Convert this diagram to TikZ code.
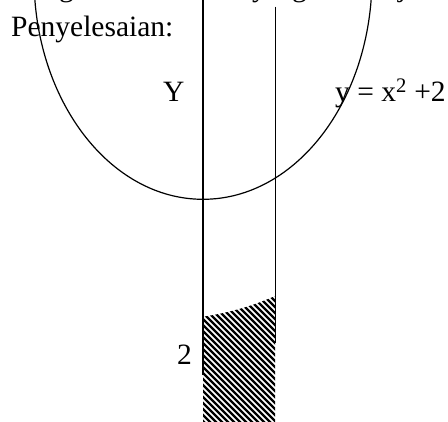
\documentclass[tikz,border=0pt]{standalone}
\usepackage{fontspec}
\setmainfont{Liberation Serif}
\begin{document}
\begin{tikzpicture}[x=1bp,y=-1bp,
  txt/.style={inner sep=0pt, anchor=base west, font=\fontsize{29.6}{35}\selectfont},
  curve/.style={line width=1.2bp, black},
  hatchline/.style={line width=2.3bp, black}]
\useasboundingbox (0,0) rectangle (448,421);
\fill[white] (0,0) rectangle (448,421);
\clip (0,0) rectangle (448,421);
% hatched region
\begin{scope}
  \clip (203,316.7) .. controls (229,312.8) and (253,305.9) .. (275,296) -- (275,430) -- (203,430) -- cycle;
  \foreach \i in {0,...,40} {
    \draw[hatchline] ({60+6*\i},290) -- ({60+6*\i+140},430);
  }
\end{scope}
% curve and lines
\draw[curve] (203,-22.7) ellipse [x radius=169, y radius=222];
\draw[curve] (203,-5) -- (203,375);
\draw[curve] (275.3,6.7) -- (275.3,342.7);
% texts
\node[txt] (pen) at (11,36) {Penyelesaian:};
\node[txt] (ylab) at (163,101.7) {Y};
\node[txt] (eq) at (335,101.7) {y = x\textsuperscript{2} +2};
\node[txt] (two) at (177,364) {2};
% cut-off line above
\node[txt] (f1) at (59,-3.5) {g};
\node[txt] (f2) at (252,-3.5) {y};
\node[txt] (f3) at (292,-3.5) {g};
\node[txt] (f4) at (398,-3.5) {j};
\end{tikzpicture}
\end{document}
